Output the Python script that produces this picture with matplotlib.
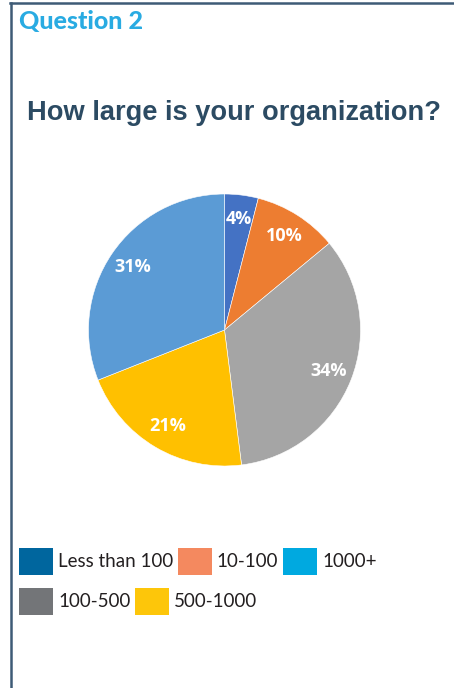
import matplotlib.pyplot as plt
from matplotlib.patches import Patch
from matplotlib.lines import Line2D

# pie data (clockwise from the top)
pie_shares = [4, 10, 34, 21, 31]
pie_colors = ['#4472c4', '#ed7d31', '#a5a5a5', '#ffc000', '#5b9bd5']

# legend entries (as printed under the chart)
legend_row1 = ['Less than 100', '10-100', '1000+']
legend_row1_colors = ['#00669e', '#f4895f', '#00a9e0']
legend_row2 = ['100-500', '500-1000']
legend_row2_colors = ['#737578', '#fdc60a']

W, H = 454, 688
fig = plt.figure(figsize=(W / 100, H / 100), dpi=100)
fig.patch.set_facecolor('white')

# frame lines (left and top)
border = '#3e5b76'
fig.add_artist(Line2D([10.5 / W, 10.5 / W], [0, 1 - 3 / H], color=border, lw=1.8))
fig.add_artist(Line2D([10 / W, 1], [1 - 3 / H, 1 - 3 / H], color=border, lw=1.8))

fig.text(19 / W, 1 - 22 / H, 'Question 2', color='#29abe2', fontsize=18,
         fontweight='black', family='Lato', va='center', ha='left')
fig.text(27 / W, 1 - 113 / H, 'How large is your organization?', color='#2c4b63',
         fontsize=19.6, fontweight='bold', family='Liberation Sans', va='center', ha='left')

cx, cy, r = 224.5, 330, 136
ax = fig.add_axes([(cx - r) / W, (H - cy - r) / H, 2 * r / W, 2 * r / H])
wedges, texts, autotexts = ax.pie(
    pie_shares, colors=pie_colors, startangle=90, counterclock=False,
    autopct='%d%%', pctdistance=0.82, radius=1,
    wedgeprops=dict(edgecolor='white', linewidth=0.4),
    textprops=dict(color='white', fontsize=13, fontweight='bold', family='Open Sans'))
ax.set_xlim(-1, 1)
ax.set_ylim(-1, 1)
ax.set_aspect('equal')
ax.axis('off')

leg_kw = dict(frameon=False, handlelength=1.8, handleheight=1.8,
              handletextpad=0.28, columnspacing=0.25, borderpad=0, borderaxespad=0,
              prop=dict(family='Lato', size=13.5), labelcolor='#231f20')
h1 = [Patch(facecolor=c, edgecolor='none') for c in legend_row1_colors]
fig.legend(h1, legend_row1, ncol=3, loc='upper left',
           bbox_to_anchor=(19 / W, 1 - 548 / H), **leg_kw)
h2 = [Patch(facecolor=c, edgecolor='none') for c in legend_row2_colors]
fig.legend(h2, legend_row2, ncol=2, loc='upper left',
           bbox_to_anchor=(19 / W, 1 - 588 / H), **leg_kw)

fig.savefig('out.png', dpi=100)
